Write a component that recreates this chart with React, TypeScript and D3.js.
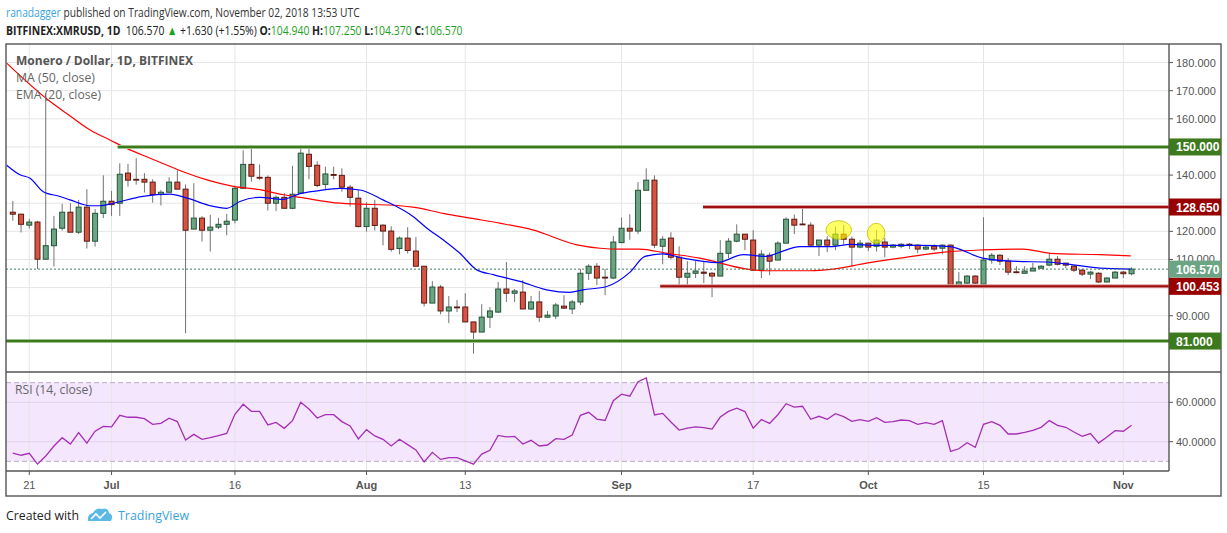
import React, { useRef, useEffect } from 'react';
import * as d3 from 'd3';

// first visible daily bar, one bar per calendar day after it
const firstBar = '2018-06-19';

const opens = [
  126.8, 126.1, 122.2, 123.3, 110.1, 114.9, 121.1, 126.8, 119.7, 128.6, 116.5, 126.4, 130.7, 130.0, 140.7, 138.5,
  138.5, 137.5, 133.1, 133.9, 137.5, 135.0, 120.8, 124.7, 120.4, 121.5, 122.5, 124.0, 135.3, 143.8, 139.2, 139.2,
  130.0, 132.1, 128.2, 133.6, 147.4, 143.5, 136.7, 140.2, 139.9, 135.7, 131.8, 121.7, 128.2, 122.2, 120.1, 113.9,
  117.6, 113.0, 107.6, 94.5, 100.2, 91.7, 93.1, 93.1, 87.8, 84.2, 89.5, 91.3, 99.5, 98.0, 98.4, 92.4,
  94.9, 89.5, 89.9, 93.4, 92.4, 94.9, 105.1, 107.6, 103.7, 103.4, 116.0, 121.1, 120.1, 134.6, 138.2, 114.7,
  117.6, 110.8, 103.7, 105.1, 105.5, 105.1, 104.1, 112.2, 116.5, 119.0, 116.9, 106.2, 111.5, 109.8, 115.8, 124.3,
  122.6, 122.2, 115.1, 116.9, 115.1, 119.0, 117.2, 114.4, 115.8, 114.7, 116.2, 114.4, 114.7, 115.4, 115.1, 113.7,
  114.7, 114.0, 115.1, 100.8, 101.6, 104.1, 101.2, 109.8, 111.5, 109.4, 105.6, 105.1, 105.9, 106.9, 108.0, 110.1,
  108.7, 107.6, 106.2, 104.8, 105.1, 102.0, 103.4, 105.5, 104.94,
];
const highs = [
  130.8, 126.3, 124.4, 123.7, 169.0, 125.5, 129.8, 130.0, 131.2, 135.0, 127.9, 139.9, 134.4, 144.2, 144.0, 146.0,
  140.7, 138.5, 134.7, 139.2, 141.7, 136.7, 137.1, 125.4, 125.9, 124.8, 126.2, 136.3, 148.8, 149.9, 143.8, 139.9,
  132.8, 133.6, 143.3, 149.3, 149.9, 144.9, 143.0, 143.0, 142.4, 136.5, 134.7, 130.4, 131.2, 122.5, 121.8, 118.2,
  121.5, 118.0, 107.6, 102.3, 100.9, 97.0, 95.6, 98.0, 87.8, 94.1, 93.1, 102.0, 109.1, 99.5, 102.7, 97.0,
  98.8, 91.7, 94.5, 97.3, 95.6, 106.6, 108.3, 108.7, 106.6, 118.3, 124.9, 126.1, 137.5, 142.4, 139.9, 118.3,
  119.7, 114.7, 109.4, 109.4, 109.4, 105.5, 116.9, 117.6, 122.5, 119.0, 120.4, 113.3, 112.5, 116.5, 125.0, 126.0,
  128.6, 123.2, 116.9, 118.3, 121.8, 122.2, 118.2, 116.9, 115.8, 120.4, 117.6, 115.5, 115.8, 115.8, 115.4, 115.1,
  115.4, 115.4, 115.4, 105.5, 104.4, 104.4, 125.0, 112.3, 111.9, 110.5, 107.6, 107.6, 108.8, 108.0, 112.2, 111.2,
  108.7, 108.0, 106.6, 105.9, 105.5, 103.7, 105.9, 105.9, 107.25,
];
const lows = [
  123.8, 119.6, 121.0, 106.6, 110.1, 107.5, 120.3, 119.7, 119.0, 113.9, 114.6, 124.7, 125.5, 125.5, 135.9, 136.6,
  133.8, 130.2, 129.2, 133.9, 135.0, 83.8, 120.8, 116.4, 112.8, 120.8, 118.6, 122.8, 135.3, 137.7, 138.3, 127.4,
  127.2, 128.2, 127.9, 133.6, 138.5, 135.7, 135.0, 138.5, 134.1, 128.8, 121.4, 119.9, 120.3, 115.0, 112.8, 111.8,
  112.1, 107.6, 93.3, 94.5, 90.5, 87.4, 91.3, 87.8, 76.5, 84.2, 85.6, 91.0, 94.9, 94.9, 92.4, 92.0,
  87.8, 89.2, 88.8, 92.4, 90.6, 93.8, 102.7, 100.9, 97.3, 103.0, 115.8, 117.0, 119.0, 134.6, 114.0, 108.3,
  110.1, 100.9, 100.9, 103.4, 101.6, 96.6, 104.1, 110.5, 116.1, 113.3, 106.2, 103.4, 104.4, 109.8, 115.8, 119.0,
  122.5, 114.4, 111.2, 112.6, 113.3, 115.4, 107.6, 114.0, 113.0, 112.8, 110.8, 114.0, 114.0, 113.7, 112.2, 113.3,
  113.0, 111.9, 100.5, 100.5, 101.4, 101.4, 101.2, 108.5, 108.0, 104.4, 105.1, 105.1, 105.9, 106.9, 107.6, 107.9,
  106.9, 105.5, 104.1, 103.0, 101.6, 101.8, 103.4, 103.4, 104.37,
];
const closes = [
  126.1, 122.5, 123.3, 110.1, 114.9, 120.8, 126.8, 119.7, 128.6, 116.5, 126.4, 130.7, 129.5, 140.3, 138.2, 138.4,
  137.5, 133.1, 133.9, 137.5, 135.0, 120.4, 124.7, 120.4, 121.5, 122.5, 123.6, 135.3, 143.8, 139.6, 139.1, 130.0,
  132.1, 128.2, 133.2, 147.8, 143.1, 136.3, 140.4, 139.9, 135.7, 132.1, 121.7, 128.2, 122.1, 120.1, 113.6, 117.6,
  113.2, 107.6, 94.5, 100.2, 91.7, 93.1, 93.0, 87.8, 84.2, 89.5, 91.7, 99.5, 98.0, 98.8, 92.4, 94.9,
  89.5, 90.2, 93.8, 92.7, 94.9, 105.1, 107.6, 103.4, 103.4, 116.2, 121.1, 120.1, 134.6, 138.2, 115.1, 117.2,
  110.8, 103.7, 105.1, 105.9, 105.1, 104.1, 112.2, 116.5, 119.0, 117.2, 106.2, 111.9, 109.4, 115.8, 124.3, 122.2,
  122.5, 115.1, 116.9, 115.1, 119.0, 117.2, 114.4, 115.8, 114.4, 116.9, 114.4, 115.1, 115.4, 115.1, 113.7, 114.4,
  113.7, 115.1, 100.8, 102.0, 104.1, 101.6, 109.8, 111.5, 109.4, 105.5, 105.4, 105.9, 106.9, 107.6, 110.1, 108.3,
  108.0, 106.2, 104.8, 105.5, 102.0, 103.4, 105.5, 104.94, 106.57,
];

// MA (50) and EMA (20), position in bars from firstBar
const maBars = [-0.75, 4.3, 6.55, 9.4, 11.8, 13.85, 16.7, 18.7, 20.7, 23.6, 26.8, 30.05, 32.9, 34.9, 39.8, 47.1, 48.65,
  52.3, 55.6, 59.2, 63.2, 68.6, 71.4, 73.8, 76.2, 79.5, 83.5, 89.25, 91.7, 96.9, 99.7, 103.8, 107.85, 113.9, 117.9,
  122.8, 126.1, 132.2, 135.9];
const maValues = [179.8, 166.7, 161.9, 156.0, 152.5, 149.5, 146.0, 143.6, 141.2, 138.3, 136.0, 134.8, 133.0, 132.1, 130.0,
  129.1, 128.6, 126.4, 124.7, 122.9, 120.5, 115.2, 114.0, 113.7, 113.7, 112.2, 110.5, 106.6, 106.0, 106.0, 106.6,
  108.7, 110.5, 112.8, 113.4, 113.7, 112.2, 111.7, 111.3];
const emaBars = [-0.75, 0.87, 2.1, 3.7, 5.75, 6.95, 9.4, 10.6, 12.2, 15.8, 19.1, 21.2, 24.0, 26.0, 27.6, 30.05, 32.85,
  34.9, 37.0, 39.8, 42.2, 45.0, 48.65, 50.35, 52.3, 54.35, 56.4, 58.4, 61.65, 64.9, 67.7, 69.3, 72.2, 75.0, 76.85,
  79.0, 81.5, 85.6, 88.8, 91.7, 92.9, 95.7, 99.7, 101.8, 105.0, 110.3, 113.9, 117.9, 122.1, 125.7, 128.9, 132.2, 135.9];
const emaValues = [143.5, 140.1, 138.9, 134.1, 132.4, 131.2, 129.1, 129.1, 130.0, 132.4, 133.2, 131.8, 129.1, 128.2, 130.6,
  132.1, 131.4, 133.4, 134.4, 135.3, 134.7, 131.2, 125.3, 121.1, 117.0, 112.2, 106.3, 104.6, 102.2, 99.2, 98.3, 99.2,
  100.4, 105.4, 111.1, 112.0, 110.5, 108.9, 111.7, 111.1, 112.2, 114.6, 114.6, 115.4, 115.0, 115.0, 114.6, 110.5,
  109.3, 109.1, 108.1, 106.9, 106.6];

const rsiValues = [
  34.2, 33.1, 34.1, 28.6, 32.7, 37.8, 42.0, 38.8, 44.6, 39.3, 45.3, 47.8, 47.5, 53.4, 52.4, 52.4,
  51.7, 48.8, 49.3, 51.9, 50.2, 40.8, 43.7, 41.2, 42.0, 43.1, 44.2, 53.9, 59.0, 55.4, 55.4, 48.5,
  49.8, 46.8, 50.7, 60.0, 56.6, 52.0, 53.7, 53.7, 50.2, 48.0, 41.4, 46.1, 42.9, 41.2, 37.8, 41.2,
  38.5, 35.8, 29.7, 34.6, 31.0, 31.9, 31.9, 30.2, 28.6, 33.7, 35.6, 43.2, 42.4, 42.7, 38.8, 40.7,
  37.8, 38.3, 41.5, 41.2, 43.4, 53.4, 54.9, 51.5, 50.8, 60.8, 64.1, 63.1, 70.5, 72.4, 53.6, 54.4,
  50.0, 45.9, 46.9, 47.5, 47.1, 46.4, 52.5, 55.4, 57.0, 55.3, 46.9, 51.2, 49.3, 53.7, 59.3, 57.6,
  58.0, 51.4, 52.9, 51.4, 54.2, 52.7, 50.3, 51.2, 50.3, 52.2, 49.8, 50.2, 51.0, 50.7, 48.8, 49.7,
  48.8, 50.7, 35.1, 36.4, 39.5, 37.1, 48.8, 50.2, 48.3, 43.9, 43.9, 44.7, 45.8, 47.3, 50.7, 48.3,
  47.3, 44.9, 42.7, 44.1, 39.3, 42.4, 45.6, 45.3, 48.3,
];

const timeTicks = ['2018-06-21', '2018-07-01', '2018-07-16', '2018-08-01', '2018-08-13', '2018-09-01', '2018-09-17', '2018-10-01', '2018-10-15', '2018-11-01'];
const timeLabels = ['21', 'Jul', '16', 'Aug', '13', 'Sep', '17', 'Oct', '15', 'Nov'];
const priceTicks = [180, 170, 160, 150, 140, 130, 120, 110, 100, 90];
const rsiTicks = [60, 40];

// drawn levels: price, first bar of the ray, colour kind
const levelPrices = [150, 81, 128.65, 100.453];
const levelStarts = [12.75, -1, 83.9, 78.7];
const levelKinds = ['green', 'green', 'red', 'red'];

// highlight ellipses: centre bar, centre price, half width in bars, half height in price
const markBars = [100.4, 104.95];
const markPrices = [120.5, 119.3];
const markHalfBars = [1.55, 1.07];
const markHalfPrices = [3.3, 3.55];

const lastPrice = 106.57;
const axisBoxes = [
  { value: 150, text: '150.000', bg: '#3c7a1d' },
  { value: 128.65, text: '128.650', bg: '#990000' },
  { value: 106.57, text: '106.570', bg: '#6ba583' },
  { value: 100.453, text: '100.453', bg: '#990000' },
  { value: 81, text: '81.000', bg: '#3c7a1d' },
];

const UI = "'Open Sans', sans-serif";
const AXIS = "'Liberation Sans', Arial, sans-serif";

const App: React.FC = () => {
  const svgRef = useRef<SVGSVGElement>(null);

  useEffect(() => {
    document.body.style.margin = '0';
    if (!svgRef.current) return;
    const svg = d3.select(svgRef.current);
    svg.selectAll('*').remove();

    const left = 6, right = 1169, frameRight = 1221;
    const top = 44, priceBottom = 372, rsiBottom = 471, bottom = 496;

    const t0 = Date.parse(firstBar);
    const barOf = (s: string) => (Date.parse(s) - t0) / 864e5;

    const x = d3.scaleLinear().domain([-0.83, 140.55]).range([left, right]);
    const y = d3.scaleLinear().domain([70, 186.6]).range([priceBottom, top]);
    const yRsi = d3.scaleLinear().domain([25.1, 75.4]).range([rsiBottom, priceBottom]);

    const defs = svg.append('defs');
    defs.append('clipPath').attr('id', 'pricePane').append('rect')
      .attr('x', left).attr('y', top).attr('width', right - left).attr('height', priceBottom - top);
    defs.append('clipPath').attr('id', 'rsiPane').append('rect')
      .attr('x', left).attr('y', priceBottom).attr('width', right - left).attr('height', rsiBottom - priceBottom);

    svg.append('rect').attr('width', 1227).attr('height', 533).attr('fill', '#ffffff');

    // RSI band
    svg.append('rect')
      .attr('x', left).attr('width', right - left)
      .attr('y', yRsi(70)).attr('height', yRsi(30) - yRsi(70))
      .attr('fill', '#f4e6fd');

    // grid
    const grid = svg.append('g');
    grid.selectAll('.vgrid').data(timeTicks).enter().append('line')
      .attr('x1', d => x(barOf(d))).attr('x2', d => x(barOf(d)))
      .attr('y1', top).attr('y2', rsiBottom)
      .attr('stroke', '#e6e6e6').attr('stroke-width', 1);
    grid.selectAll('.hgrid').data(priceTicks).enter().append('line')
      .attr('x1', left).attr('x2', right)
      .attr('y1', d => y(d)).attr('y2', d => y(d))
      .attr('stroke', '#e6e6e6').attr('stroke-width', 1);
    grid.selectAll('.rgrid').data(rsiTicks).enter().append('line')
      .attr('x1', left).attr('x2', right)
      .attr('y1', d => yRsi(d)).attr('y2', d => yRsi(d))
      .attr('stroke', '#e2d2ec').attr('stroke-width', 1);
    grid.selectAll('.rband').data([70, 30]).enter().append('line')
      .attr('x1', left).attr('x2', right)
      .attr('y1', d => yRsi(d)).attr('y2', d => yRsi(d))
      .attr('stroke', '#b9aec0').attr('stroke-width', 1).attr('stroke-dasharray', '5,3');

    // candles
    const bars = opens.map((o, i) => ({ i, o, h: highs[i], l: lows[i], c: closes[i] }));
    const price = svg.append('g').attr('clip-path', 'url(#pricePane)');

    price.selectAll('.wick').data(bars).enter().append('line')
      .attr('x1', d => x(d.i)).attr('x2', d => x(d.i))
      .attr('y1', d => y(d.h)).attr('y2', d => y(d.l))
      .attr('stroke', '#737375').attr('stroke-width', 1);

    price.selectAll('.body').data(bars).enter().append('rect')
      .attr('x', d => x(d.i) - 2.5)
      .attr('width', 5)
      .attr('y', d => y(Math.max(d.o, d.c)))
      .attr('height', d => Math.max(0.8, Math.abs(y(d.o) - y(d.c))))
      .attr('fill', d => (d.c >= d.o ? '#6ba583' : '#d75442'))
      .attr('stroke', d => (d.c >= d.o ? '#225437' : '#5b1a13'))
      .attr('stroke-width', 1);

    // moving averages
    const ma = maBars.map((b, i) => [b, maValues[i]] as [number, number]);
    const ema = emaBars.map((b, i) => [b, emaValues[i]] as [number, number]);
    const avgLine = d3.line<[number, number]>()
      .x(d => x(d[0])).y(d => y(d[1]))
      .curve(d3.curveMonotoneX);
    price.append('path').datum(ma)
      .attr('fill', 'none').attr('stroke', '#ff0000').attr('stroke-width', 1.2).attr('d', avgLine);
    price.append('path').datum(ema)
      .attr('fill', 'none').attr('stroke', '#0000ff').attr('stroke-width', 1.2).attr('d', avgLine);

    // last price dotted line
    price.append('line')
      .attr('x1', left).attr('x2', right)
      .attr('y1', y(lastPrice)).attr('y2', y(lastPrice))
      .attr('stroke', '#3f7f5c').attr('stroke-width', 1).attr('stroke-dasharray', '2,2');

    // horizontal rays
    const levels = levelPrices.map((p, i) => ({ p, start: levelStarts[i], kind: levelKinds[i] }));
    price.selectAll('.rayHalo').data(levels).enter().append('line')
      .attr('x1', d => x(d.start)).attr('x2', right)
      .attr('y1', d => y(d.p)).attr('y2', d => y(d.p))
      .attr('stroke', d => (d.kind === 'green' ? '#9dc28c' : '#dc9a9a'))
      .attr('stroke-width', 4);
    price.selectAll('.ray').data(levels).enter().append('line')
      .attr('x1', d => x(d.start)).attr('x2', right)
      .attr('y1', d => y(d.p)).attr('y2', d => y(d.p))
      .attr('stroke', d => (d.kind === 'green' ? '#3c7a1d' : '#9e0e0e'))
      .attr('stroke-width', 2);

    // highlight ellipses
    const marks = markBars.map((b, i) => ({ b, p: markPrices[i], hb: markHalfBars[i], hp: markHalfPrices[i] }));
    price.selectAll('.mark').data(marks).enter().append('ellipse')
      .attr('cx', d => x(d.b)).attr('cy', d => y(d.p))
      .attr('rx', d => x(d.b + d.hb) - x(d.b))
      .attr('ry', d => y(d.p - d.hp) - y(d.p))
      .attr('fill', 'rgba(255,255,0,0.6)')
      .attr('stroke', 'rgba(190,190,0,0.8)').attr('stroke-width', 1);

    // RSI line
    const rsiLine = d3.line<number>().x((_d, i) => x(i)).y(d => yRsi(d));
    svg.append('g').attr('clip-path', 'url(#rsiPane)')
      .append('path').datum(rsiValues)
      .attr('fill', 'none').attr('stroke', '#a52fb4').attr('stroke-width', 1.3).attr('d', rsiLine);

    // frame
    const frame = svg.append('g').attr('stroke', '#555555').attr('stroke-width', 1.4).attr('fill', 'none');
    frame.append('rect').attr('x', left).attr('y', top).attr('width', frameRight - left).attr('height', bottom - top);
    frame.append('line').attr('x1', right).attr('x2', right).attr('y1', top).attr('y2', rsiBottom);
    frame.append('line').attr('x1', left).attr('x2', frameRight).attr('y1', priceBottom).attr('y2', priceBottom);
    frame.append('line').attr('x1', left).attr('x2', right).attr('y1', rsiBottom).attr('y2', rsiBottom);

    // price axis: labels fully covered by a level box are left out
    const covered = (v: number) => axisBoxes.some(b => Math.abs(y(b.value) - y(v)) < 8);
    const shownTicks = priceTicks.filter(v => !covered(v));
    const axis = svg.append('g');
    axis.selectAll('.ptick').data(priceTicks).enter().append('line')
      .attr('x1', right).attr('x2', right + 4)
      .attr('y1', d => y(d)).attr('y2', d => y(d))
      .attr('stroke', '#555555');
    axis.selectAll('.plabel').data(shownTicks).enter().append('text')
      .attr('x', right + 7).attr('y', d => y(d) + 4)
      .style('font-family', AXIS).style('font-size', '11px').style('fill', '#555555')
      .text(d => d3.format('.3f')(d));
    const boxes = axis.selectAll('.box').data(axisBoxes).enter().append('g');
    boxes.append('rect')
      .attr('x', right).attr('y', d => y(d.value) - 8.5)
      .attr('width', frameRight - right).attr('height', 17)
      .attr('fill', d => d.bg);
    boxes.append('text')
      .attr('x', right + 7).attr('y', d => y(d.value) + 4.5)
      .style('font-family', AXIS).style('font-size', '12px').style('font-weight', 'bold').style('fill', '#ffffff')
      .text(d => d.text);

    axis.selectAll('.rtick').data(rsiTicks).enter().append('line')
      .attr('x1', right).attr('x2', right + 4)
      .attr('y1', d => yRsi(d)).attr('y2', d => yRsi(d))
      .attr('stroke', '#555555');
    axis.selectAll('.rlabel').data(rsiTicks).enter().append('text')
      .attr('x', right + 7).attr('y', d => yRsi(d) + 4)
      .style('font-family', AXIS).style('font-size', '11px').style('fill', '#555555')
      .text(d => d3.format('.4f')(d));

    // time axis
    axis.selectAll('.ttick').data(timeTicks).enter().append('line')
      .attr('x1', d => x(barOf(d))).attr('x2', d => x(barOf(d)))
      .attr('y1', rsiBottom).attr('y2', rsiBottom + 4)
      .attr('stroke', '#555555');
    axis.selectAll('.tlabel').data(timeTicks).enter().append('text')
      .attr('x', d => x(barOf(d))).attr('y', rsiBottom + 18)
      .attr('text-anchor', 'middle')
      .style('font-family', AXIS).style('font-size', '11px')
      .style('font-weight', (_d, i) => (/^\d/.test(timeLabels[i]) ? 'normal' : 'bold'))
      .style('fill', '#555555')
      .text((_d, i) => timeLabels[i]);

    // the source uses a condensed UI face, so each text is squeezed to its width there
    const label = (g: d3.Selection<SVGGElement, unknown, null, undefined>, tx: number, ty: number, w: number,
      text: string, fill: string, bold = false) =>
      g.append('text').attr('x', tx).attr('y', ty)
        .attr('textLength', w).attr('lengthAdjust', 'spacingAndGlyphs')
        .style('font-weight', bold ? 'bold' : 'normal').style('fill', fill)
        .text(text);

    // a run of differently styled pieces, squeezed as a whole
    const run = (tx: number, ty: number, w: number, pieces: [string, string, boolean][]) => {
      const g = svg.append('g').style('font-family', UI).style('font-size', '13px');
      const t = g.append('text');
      pieces.forEach(([text, fill, bold]) => {
        t.append('tspan').style('fill', fill).style('font-weight', bold ? 'bold' : 'normal').text(text);
      });
      const natural = (t.node() as SVGTextElement).getComputedTextLength() || w;
      g.attr('transform', `translate(${tx},${ty}) scale(${w / natural},1)`);
    };

    // pane legends
    const legend = svg.append('g').style('font-family', UI).style('font-size', '13px');
    label(legend, 16, 65, 177, 'Monero / Dollar, 1D, BITFINEX', '#555555', true);
    label(legend, 16, 82, 79, 'MA (50, close)', '#666666');
    label(legend, 16, 99, 85, 'EMA (20, close)', '#666666');
    label(legend, 15, 394, 77, 'RSI (14, close)', '#666666');

    // header
    const ink = '#222222';
    const up = '#22a022';
    run(6, 17, 354, [
      ['ranadagger', '#3aa3e3', false],
      [' published on TradingView.com, November 02, 2018 13:53 UTC', '#333333', false],
    ]);
    run(6, 35, 457, [
      ['BITFINEX:XMRUSD, 1D', ink, true],
      ['\u00a0 106.570 ', ink, false],
      ['▲', up, false],
      [' +1.630 (+1.55%) ', ink, false],
      ['O:', ink, true], ['104.940', up, false],
      [' H:', ink, true], ['107.250', up, false],
      [' L:', ink, true], ['104.370', up, false],
      [' C:', ink, true], ['106.570', up, false],
    ]);

    // footer
    const foot = svg.append('g').style('font-family', UI).style('font-size', '13px');
    label(foot, 6, 520, 73, 'Created with', '#222222');
    foot.append('path')
      .attr('d', 'M88,521 Q87,514 93,513 Q96,507 102,509 Q108,507 109,513 Q114,515 111,521 Z')
      .attr('fill', '#5cb9e6');
    foot.append('path')
      .attr('d', 'M91,519 L96,514 L100,518 L106,512')
      .attr('fill', 'none').attr('stroke', '#ffffff').attr('stroke-width', 1.6);
    label(foot, 118, 520, 71, 'TradingView', '#3aa3e3');
  }, []);

  return <svg ref={svgRef} width={1227} height={533} style={{ display: 'block' }} />;
};

export default App;
